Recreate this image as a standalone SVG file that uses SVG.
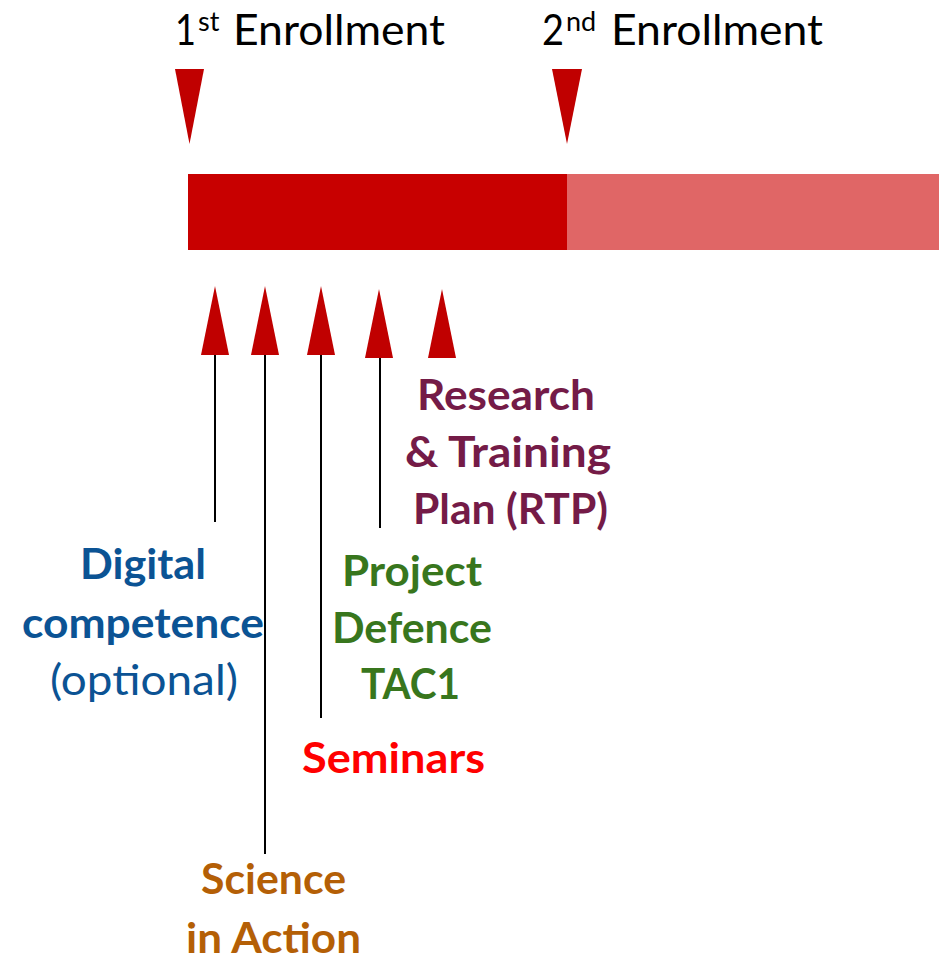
<svg xmlns="http://www.w3.org/2000/svg" width="939" height="961" viewBox="0 0 939 961">
<style>
.tri{fill:#C00000}
.ln{stroke:#000;stroke-width:2;fill:none}
.t{font-family:Lato,"Liberation Sans",sans-serif;font-size:42px}
.b{font-weight:bold}
.sup{font-size:27px}
</style>
<rect width="939" height="961" fill="#fff"/>
<g id="timeline">
<rect x="188" y="174" width="379" height="76" fill="#C80000"/>
<rect x="567" y="174" width="372" height="76" fill="#E06666"/>
</g>
<g id="enroll1">
<text class="t" y="45"><tspan x="175" textLength="21" lengthAdjust="spacingAndGlyphs">1</tspan><tspan class="sup" x="198" y="31">st</tspan><tspan x="233" y="45" textLength="212" lengthAdjust="spacingAndGlyphs">Enrollment</tspan></text>
<polygon class="tri" points="175,69 204,69 189.5,144"/>
</g>
<g id="enroll2">
<text class="t" y="45"><tspan x="542" textLength="22" lengthAdjust="spacingAndGlyphs">2</tspan><tspan class="sup" x="566" y="31">nd</tspan><tspan x="611" y="45" textLength="212" lengthAdjust="spacingAndGlyphs">Enrollment</tspan></text>
<polygon class="tri" points="552,69 582,69 567,144"/>
</g>
<g id="connectors">
<polygon class="tri" points="201,355 229,355 215,286"/>
<polygon class="tri" points="251,355 279,355 265,286"/>
<polygon class="tri" points="307,355 335,355 321,286"/>
<polygon class="tri" points="365,358 393,358 379,289"/>
<polygon class="tri" points="428,358 456,358 442,289"/>
<line class="ln" x1="215" y1="355" x2="215" y2="522"/>
<line class="ln" x1="265" y1="355" x2="265" y2="854"/>
<line class="ln" x1="321" y1="355" x2="321" y2="718"/>
<line class="ln" x1="380" y1="358" x2="380" y2="528"/>
</g>
<g id="rtp" fill="#741B47">
<text class="t b" x="417" y="410" textLength="178" lengthAdjust="spacingAndGlyphs">Research</text>
<text class="t b" x="405" y="467" textLength="206" lengthAdjust="spacingAndGlyphs">&amp; Training</text>
<text class="t b" x="413" y="524" textLength="195" lengthAdjust="spacingAndGlyphs">Plan (RTP)</text>
</g>
<g id="digital" fill="#0B5394">
<text class="t b" x="80" y="579" textLength="126" lengthAdjust="spacingAndGlyphs">Digital</text>
<text class="t b" x="22" y="638" textLength="242" lengthAdjust="spacingAndGlyphs">competence</text>
<text class="t" x="50" y="695" textLength="188" lengthAdjust="spacingAndGlyphs">(optional)</text>
</g>
<g id="project" fill="#38761D">
<text class="t b" x="342" y="586" textLength="140" lengthAdjust="spacingAndGlyphs">Project</text>
<text class="t b" x="332" y="643" textLength="160" lengthAdjust="spacingAndGlyphs">Defence</text>
<text class="t b" x="361" y="699" textLength="99" lengthAdjust="spacingAndGlyphs">TAC1</text>
</g>
<g id="seminars" fill="#FF0000">
<text class="t b" x="302" y="773" textLength="183" lengthAdjust="spacingAndGlyphs">Seminars</text>
</g>
<g id="science" fill="#B45F06">
<text class="t b" x="201" y="894" textLength="145" lengthAdjust="spacingAndGlyphs">Science</text>
<text class="t b" x="186" y="953" textLength="175" lengthAdjust="spacingAndGlyphs">in Action</text>
</g>
</svg>
